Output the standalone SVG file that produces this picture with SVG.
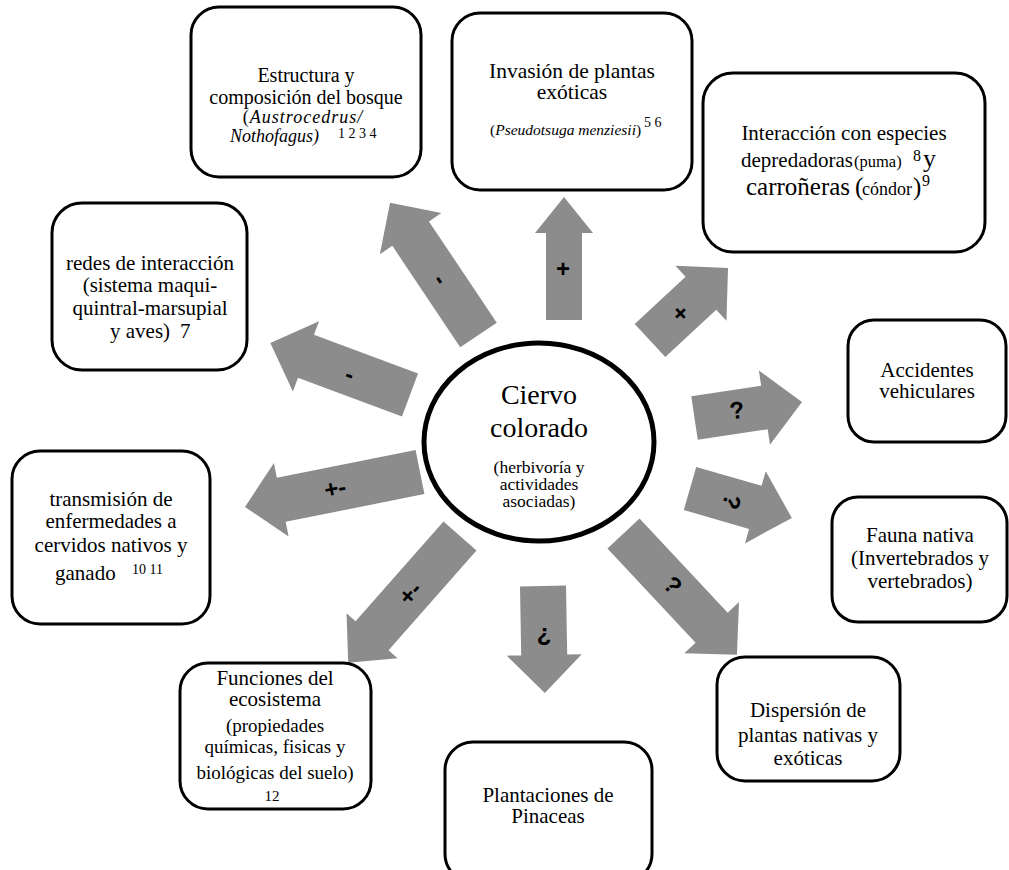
<svg xmlns="http://www.w3.org/2000/svg" width="1009" height="870" viewBox="0 0 1009 870">
<style>
.box{fill:#fff;stroke:#000;stroke-width:3}
.arr{fill:#8c8c8c;stroke:none}
.t{font-family:"Liberation Serif","Times New Roman",serif;font-size:21px;fill:#000;text-anchor:middle}
.s{font-size:17.5px}
.i{font-style:italic}
.lbl{font-family:"Liberation Sans",Arial,sans-serif;font-weight:bold;font-size:24px;fill:#000;text-anchor:middle;dominant-baseline:central}
</style>
<rect width="1009" height="870" fill="#fff"/>
<g id="connectors">
  <g transform="translate(564,320) rotate(-90)"><polygon class="arr" points="0,-18 87,-18 87,-29 123,0 87,29 87,18 0,18"/></g>
  <g transform="translate(478.5,335) rotate(236.2)"><polygon class="arr" points="0,-22 122,-22 122,-37 159,0 122,37 122,22 0,22"/></g>
  <g transform="translate(410,395) rotate(200.4)"><polygon class="arr" points="0,-23 111,-23 111,-37.5 149,0 111,37.5 111,23 0,23"/></g>
  <g transform="translate(650,340.5) rotate(-42.9)"><polygon class="arr" points="0,-22.5 69.5,-22.5 69.5,-37.5 106.5,0 69.5,37.5 69.5,22.5 0,22.5"/></g>
  <g transform="translate(694.5,418) rotate(-8.5)"><polygon class="arr" points="0,-22 70.7,-22 70.7,-37.5 108.7,0 70.7,37.5 70.7,22 0,22"/></g>
  <g transform="translate(690,488.5) rotate(16.1)"><polygon class="arr" points="0,-22.5 68,-22.5 68,-37.5 106,0 68,37.5 68,22.5 0,22.5"/></g>
  <g transform="translate(623.5,533.5) rotate(46.9)"><polygon class="arr" points="0,-22 129,-22 129,-37.5 166,0 129,37.5 129,22 0,22"/></g>
  <g transform="translate(543,586) rotate(89)"><polygon class="arr" points="0,-23 69,-23 69,-37.5 107,0 69,37.5 69,23 0,23"/></g>
  <g transform="translate(460,536) rotate(131.4)"><polygon class="arr" points="0,-22 133,-22 133,-34 169,0 133,34 133,22 0,22"/></g>
  <g transform="translate(420,472) rotate(168.7)"><polygon class="arr" points="0,-22.5 141.5,-22.5 141.5,-37.5 178.5,0 141.5,37.5 141.5,22.5 0,22.5"/></g>
  <text class="lbl" transform="translate(563,268)">+</text>
  <text class="lbl" transform="translate(441,279) rotate(56)">-</text>
  <text class="lbl" transform="translate(350,374) rotate(20)">-</text>
  <text class="lbl" transform="translate(680,313) rotate(-43)">+</text>
  <text class="lbl" transform="translate(737,410) rotate(-8.5)">?</text>
  <text class="lbl" transform="translate(732,502) rotate(106)">?</text>
  <text class="lbl" transform="translate(673,585) rotate(47)">?</text>
  <text class="lbl" transform="translate(544,632)">¿</text>
  <text class="lbl" transform="translate(410,593) rotate(-48.6)">+-</text>
  <text class="lbl" transform="translate(335,488) rotate(-11.3)">+-</text>
</g>
<g id="center">
  <ellipse cx="539" cy="442" rx="115" ry="99" fill="#fff" stroke="#000" stroke-width="5"/>
  <text class="t" style="font-size:28px" x="539" y="404">Ciervo</text>
  <text class="t" style="font-size:28px" x="539" y="437">colorado</text>
  <text class="t s" x="539" y="473">(herbivoría y</text>
  <text class="t s" x="539" y="490">actividades</text>
  <text class="t s" x="539" y="507">asociadas)</text>
</g>
<g id="n-estructura">
  <rect class="box" x="191" y="7" width="230" height="170" rx="28"/>
  <text class="t" style="font-size:20px" x="306" y="82">Estructura y</text>
  <text class="t" style="font-size:20px" x="306" y="104">composición del bosque</text>
  <text class="t" x="303" y="123" style="font-size:18px;letter-spacing:1px">(<tspan class="i">Austrocedrus/</tspan></text>
  <text class="t i" x="230" y="142" style="font-size:18px;text-anchor:start">Nothofagus)</text>
  <text class="t" x="338" y="138" style="font-size:14px;text-anchor:start">1 2 3 4</text>
</g>
<g id="n-invasion">
  <rect class="box" x="452" y="13" width="240" height="177" rx="28"/>
  <text class="t" style="font-size:21.5px" x="572" y="78">Invasión de plantas</text>
  <text class="t" style="font-size:21.5px" x="572" y="99">exóticas</text>
  <text class="t" x="490" y="135" style="font-size:15.5px;text-anchor:start">(<tspan class="i">Pseudotsuga menziesii</tspan>)</text>
  <text class="t" x="644" y="127" style="font-size:14px;text-anchor:start">5 6</text>
</g>
<g id="n-interaccion">
  <rect class="box" x="703" y="73" width="282" height="179" rx="30"/>
  <text class="t" x="844" y="140">Interacción con especies</text>
  <text class="t" y="167" style="text-anchor:start"><tspan x="741">depredadoras</tspan><tspan x="854" style="font-size:16.5px">(puma)</tspan><tspan x="913" y="161" style="font-size:16px">8</tspan><tspan x="923" y="167" style="font-size:26px">y</tspan></text>
  <text class="t" y="195" style="text-anchor:start;font-size:25px"><tspan x="746">carroñeras</tspan><tspan x="855">(</tspan><tspan x="862" style="font-size:18px">cóndor</tspan><tspan x="913">)</tspan><tspan x="922" y="186" style="font-size:16px">9</tspan></text>
</g>
<g id="n-redes">
  <rect class="box" x="52" y="203" width="195" height="167" rx="30"/>
  <text class="t" x="150" y="270">redes de interacción</text>
  <text class="t" x="150" y="292">(sistema maqui-</text>
  <text class="t" x="150" y="315">quintral-marsupial</text>
  <text class="t" x="110" y="338" style="text-anchor:start">y aves)<tspan x="180">7</tspan></text>
</g>
<g id="n-transmision">
  <rect class="box" x="12" y="451" width="198" height="173" rx="28"/>
  <text class="t" x="111" y="506">transmisión de</text>
  <text class="t" x="111" y="528">enfermedades a</text>
  <text class="t" x="111" y="552">cervidos nativos y</text>
  <text class="t" x="55" y="580" style="text-anchor:start">ganado</text>
  <text class="t" x="132" y="574" style="font-size:14px;text-anchor:start">10 11</text>
</g>
<g id="n-funciones">
  <rect class="box" x="180" y="663" width="191" height="146" rx="28"/>
  <text class="t" x="275" y="685">Funciones del</text>
  <text class="t" x="275" y="706">ecosistema</text>
  <text class="t" style="font-size:19px" x="275" y="732">(propiedades</text>
  <text class="t" style="font-size:19px" x="275" y="753">químicas, fisicas y</text>
  <text class="t" style="font-size:19px" x="275" y="779">biológicas del suelo)</text>
  <text class="t" style="font-size:15px" x="272" y="801">12</text>
</g>
<g id="n-plantaciones">
  <rect class="box" x="445" y="742" width="207" height="140" rx="28"/>
  <text class="t" x="548" y="802">Plantaciones de</text>
  <text class="t" x="548" y="823">Pinaceas</text>
</g>
<g id="n-dispersion">
  <rect class="box" x="717" y="657" width="183" height="124" rx="28"/>
  <text class="t" x="808" y="717">Dispersión de</text>
  <text class="t" x="808" y="742">plantas nativas y</text>
  <text class="t" x="808" y="765">exóticas</text>
</g>
<g id="n-fauna">
  <rect class="box" x="832" y="497" width="175" height="125" rx="26"/>
  <text class="t" x="920" y="542">Fauna nativa</text>
  <text class="t" x="920" y="565">(Invertebrados y</text>
  <text class="t" x="920" y="588">vertebrados)</text>
</g>
<g id="n-accidentes">
  <rect class="box" x="848" y="320" width="158" height="122" rx="26"/>
  <text class="t" x="927" y="377">Accidentes</text>
  <text class="t" x="927" y="398">vehiculares</text>
</g>
</svg>
